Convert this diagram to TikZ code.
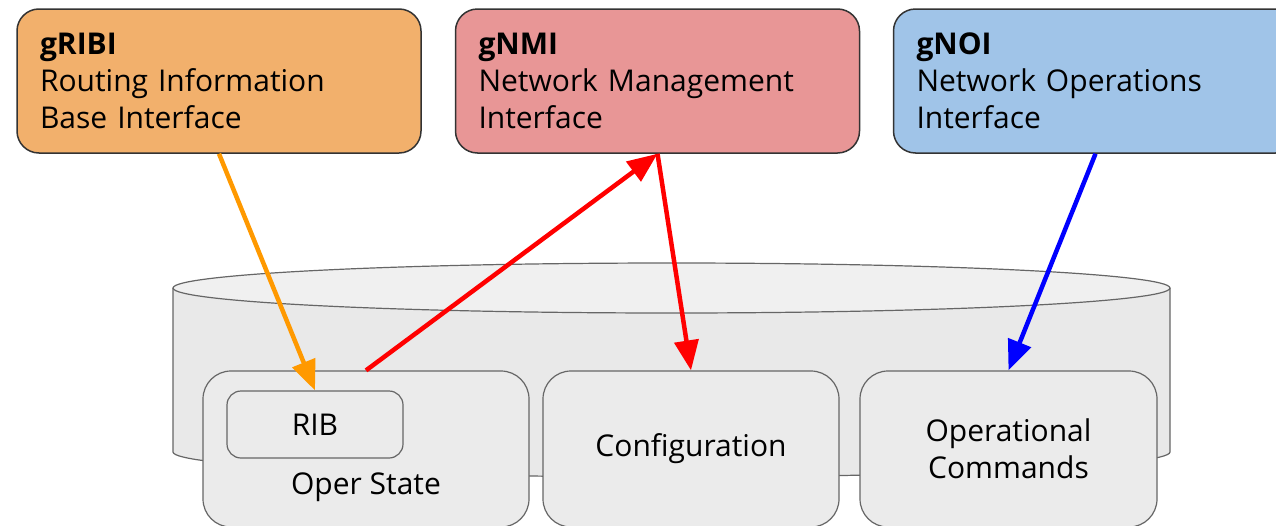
\documentclass[tikz,border=0pt]{standalone}
\usepackage{fontspec}
\setmainfont{Open Sans}
\usetikzlibrary{arrows.meta}
\definecolor{gribiorange}{RGB}{242,176,108}
\definecolor{gnmired}{RGB}{232,150,150}
\definecolor{gnoiblue}{RGB}{160,196,232}
\definecolor{cyltop}{RGB}{240,240,240}
\definecolor{cylside}{RGB}{233,233,233}
\definecolor{boxgray}{RGB}{235,235,235}
\definecolor{arroworange}{RGB}{255,153,0}

\begin{document}
\begin{tikzpicture}[x = 1pt, y = -1pt,
  every node/.style = {font = \fontsize{30}{37}\selectfont},
  topbox/.style = {draw = black!80, line width = 1.5pt, rounded corners = 22pt,
    minimum width = 404pt, minimum height = 144pt, text width = 358pt,
    align = left, inner sep = 0pt},
  lowbox/.style = {draw = black!60, line width = 1.2pt, fill = boxgray,
    rounded corners = 28pt, minimum height = 156pt, inner sep = 0pt, align = center},
  link/.style = {line width = 4.5pt, -{Triangle[length = 30pt, width = 24pt]}}
]
\useasboundingbox (0,0) rectangle (1276,525);
\clip (0,0) rectangle (1276,525);

\draw [fill = cylside, draw = black!60, line width = 1.2pt] (173,288) -- (173,452)
  arc [start angle = 180, end angle = 0, x radius = 498.5, y radius = 25] -- (1170,288);
\draw [fill = cyltop, draw = black!60, line width = 1.2pt] (671.5,288) ellipse [x radius = 498.5, y radius = 25];

\node [topbox, fill = gribiorange] (gribi) at (219,81) {\textbf{gRIBI}\\Routing Information\\Base Interface};
\node [topbox, fill = gnmired] (gnmi) at (657.5,81) {\textbf{gNMI}\\Network Management\\Interface};
\node [topbox, fill = gnoiblue] (gnoi) at (1095.5,81) {\textbf{gNOI}\\Network Operations\\Interface};

\node [lowbox, minimum width = 326pt] (oper) at (366,449) {};
\node [lowbox, minimum width = 296pt] (config) at (691,449) {Configuration};
\node [lowbox, minimum width = 297pt] (opcmd) at (1008.5,449) {Operational\\Commands};
\node [draw = black!60, line width = 1.2pt, rounded corners = 14pt,
  minimum width = 176pt, minimum height = 67pt] (rib) at (315,424.5) {RIB};
\node (operlabel) at (366,487) {Oper State};

\draw [link, arroworange] (gribi.south) -- (rib.north);
\draw [link, red] (oper.north) -- (gnmi.south);
\draw [link, red] (gnmi.south) -- (config.north);
\draw [link, blue] (gnoi.south) -- (opcmd.north);
\end{tikzpicture}
\end{document}
